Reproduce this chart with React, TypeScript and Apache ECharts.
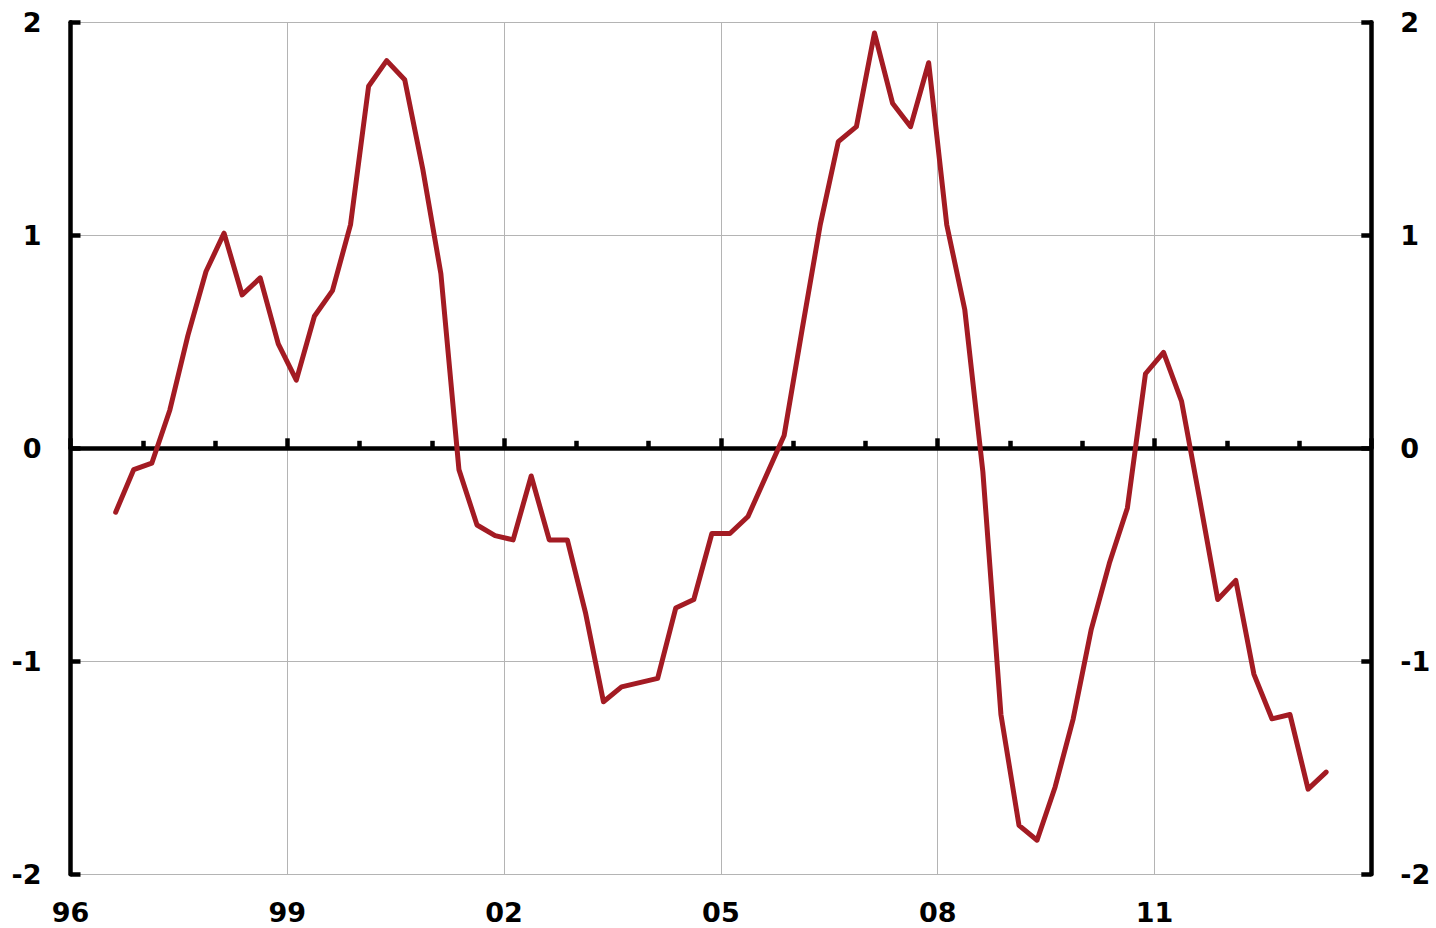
import React, { useEffect, useRef } from "react";
import * as echarts from "echarts";

// Quarterly series, first observation 1996 Q3, last 2013 Q2
const startYear = 1996;
const startQuarter = 3;
const values: number[] = [
  -0.30, -0.10, -0.07, 0.18, 0.53, 0.83, 1.01, 0.72, 0.80, 0.49,
  0.32, 0.62, 0.74, 1.05, 1.70, 1.82, 1.73, 1.31, 0.82, -0.10,
  -0.36, -0.41, -0.43, -0.13, -0.43, -0.43, -0.77, -1.19, -1.12, -1.10,
  -1.08, -0.75, -0.71, -0.40, -0.40, -0.32, -0.13, 0.06, 0.56, 1.05,
  1.44, 1.51, 1.95, 1.62, 1.51, 1.81, 1.05, 0.65, -0.11, -1.25,
  -1.77, -1.84, -1.59, -1.27, -0.85, -0.54, -0.28, 0.35, 0.45, 0.22,
  -0.24, -0.71, -0.62, -1.06, -1.27, -1.25, -1.60, -1.52,
];
const quarters: string[] = values.map((_, i) => {
  const k = startQuarter - 1 + i;
  return `${startYear + Math.floor(k / 4)}Q${(k % 4) + 1}`;
});
const axisFirstYear = 1996;
const axisLastYear = 2014;
const yTicks = [-2, -1, 0, 1, 2];

const FONT = "DejaVu Sans";
const RED = "#A31B23";
const GRID_GRAY = "#b4b4b4";

export default function App() {
  const ref = useRef<HTMLDivElement>(null);
  useEffect(() => {
    if (!ref.current) return;
    const chart = echarts.init(ref.current, undefined, { renderer: "svg" });
    const toX = (q: string) => {
      const y = parseInt(q.slice(0, 4), 10);
      const qq = parseInt(q.slice(5), 10);
      return y - axisFirstYear + (qq - 0.5) / 4;
    };
    const labelStyle = {
      fontFamily: FONT,
      fontWeight: "bold" as const,
      fontSize: 27,
      color: "#000",
    };
    const yBase = {
      type: "value" as const,
      min: yTicks[0],
      max: yTicks[yTicks.length - 1],
      interval: 1,
      axisLine: { show: true, onZero: false, lineStyle: { color: "#000", width: 4.5 } },
      axisTick: { show: true, inside: true, length: 10, lineStyle: { color: "#000", width: 4.5 } },
      axisLabel: { ...labelStyle, margin: 29 },
    };
    chart.setOption({
      animation: false,
      backgroundColor: "#fff",
      grid: { left: 70.5, right: 64.7, top: 22.3, bottom: 53.7, containLabel: false },
      xAxis: [
        {
          type: "value",
          min: 0,
          max: axisLastYear - axisFirstYear,
          interval: 3,
          position: "bottom",
          axisLine: { show: false, onZero: false },
          axisTick: { show: false },
          axisLabel: {
            ...labelStyle,
            margin: 25,
            showMaxLabel: false,
            formatter: (v: number) => String((axisFirstYear + v) % 100).padStart(2, "0"),
          },
          splitLine: { show: true, lineStyle: { color: GRID_GRAY, width: 1 } },
        },
        {
          type: "value",
          min: 0,
          max: axisLastYear - axisFirstYear,
          interval: 3,
          position: "bottom",
          axisLine: { show: true, onZero: true, onZeroAxisIndex: 0, lineStyle: { color: "#000", width: 4.5 } },
          axisTick: { show: true, inside: true, length: 10, lineStyle: { color: "#000", width: 4.5 } },
          minorTick: { show: true, splitNumber: 3, length: 7.5, lineStyle: { color: "#000", width: 4.5 } },
          axisLabel: { show: false },
          splitLine: { show: false },
        },
      ],
      yAxis: [
        {
          ...yBase,
          position: "left",
          splitLine: { show: true, lineStyle: { color: GRID_GRAY, width: 1 } },
        },
        {
          ...yBase,
          position: "right",
          splitLine: { show: false },
        },
      ],
      series: [
        {
          type: "line",
          xAxisIndex: 0,
          yAxisIndex: 0,
          data: quarters.map((q, i) => [toX(q), values[i]]),
          showSymbol: false,
          symbol: "none",
          lineStyle: { color: RED, width: 5, cap: "round", join: "round" },
          z: 5,
        },
      ],
    });
    return () => chart.dispose();
  }, []);
  return (
    <div
      ref={ref}
      style={{ position: "fixed", left: 0, top: 0, width: 1436, height: 928, background: "#fff" }}
    />
  );
}
